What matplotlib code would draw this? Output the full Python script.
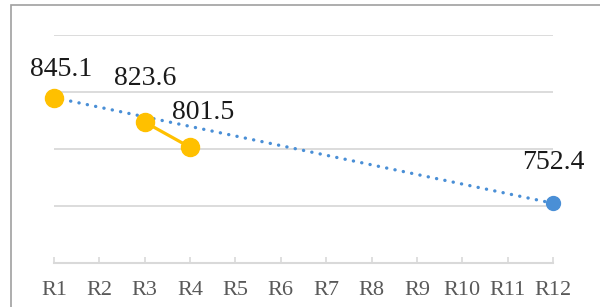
import matplotlib
matplotlib.use("Agg")
import matplotlib.pyplot as plt
import numpy as np
from matplotlib.patches import Rectangle

categories = ["R1", "R2", "R3", "R4", "R5", "R6", "R7", "R8", "R9", "R10", "R11", "R12"]
actual = [845.1, None, 823.6, 801.5, None, None, None, None, None, None, None, None]
trend = [845.1, None, None, None, None, None, None, None, None, None, None, 752.4]
ymin, ymax, ystep = 700, 900, 50

W, H = 600, 307
fig = plt.figure(figsize=(W / 100, H / 100), dpi=100)
ax = fig.add_axes([54 / W, (H - 263) / H, (553 - 54) / W, (263 - 35) / H])

x = np.arange(len(categories))
act = np.array([np.nan if v is None else v for v in actual], dtype=float)
trd = np.array([np.nan if v is None else v for v in trend], dtype=float)

# trend line (blue dotted) between its known points
mask = ~np.isnan(trd)
ax.plot(x[mask], trd[mask], color="#4A8FD6", lw=2.4, ls=(0, (0.05, 2.5)),
        dash_capstyle="round", zorder=3, clip_on=False)
ax.plot(x[mask][1:], trd[mask][1:], "o", color="#4A8FD6", ms=10, zorder=4, clip_on=False)

# actual series (orange), gaps break the line
ax.plot(x, act, color="#FFC000", lw=2.3, marker="o", ms=13, zorder=5, clip_on=False)

label_font = dict(family="Liberation Serif", size=20, color="#1a1a1a")
offsets = {0: (5, 20), 2: (0, 31.5), 3: (9.5, 25), 11: (0, 29)}
for i, (dx, dy) in offsets.items():
    v = act[i] if not np.isnan(act[i]) else trd[i]
    ax.annotate(f"{v:.1f}", (x[i], v), xytext=(dx, dy), textcoords="offset points",
                ha="center", va="center", **label_font)

ax.set_xlim(0, len(categories) - 1)
ax.set_ylim(ymin, ymax)
ax.set_yticks(np.arange(ymin, ymax + 1, ystep))
ax.yaxis.grid(True, color="#D9D9D9", lw=1.3)
ax.set_axisbelow(True)
ax.tick_params(axis="y", left=False, labelleft=False)
ax.set_xticks(x)
ax.set_xticklabels(categories, fontfamily="Liberation Serif", fontsize=16, color="#595959")
ax.tick_params(axis="x", direction="in", length=4.5, width=1.2, color="#D9D9D9", pad=13)
for s in ["left", "right", "top"]:
    ax.spines[s].set_visible(False)
ax.spines["bottom"].set_color("#D9D9D9")
ax.spines["bottom"].set_linewidth(1.5)

# outer chart frame (cropped on right and bottom)
fig.patches.append(Rectangle((11 / W, -0.1), 1.2, (H - 5) / H + 0.1, transform=fig.transFigure,
                             fill=False, edgecolor="#A0A0A0", lw=1.2))

fig.savefig("out.png", dpi=100)
